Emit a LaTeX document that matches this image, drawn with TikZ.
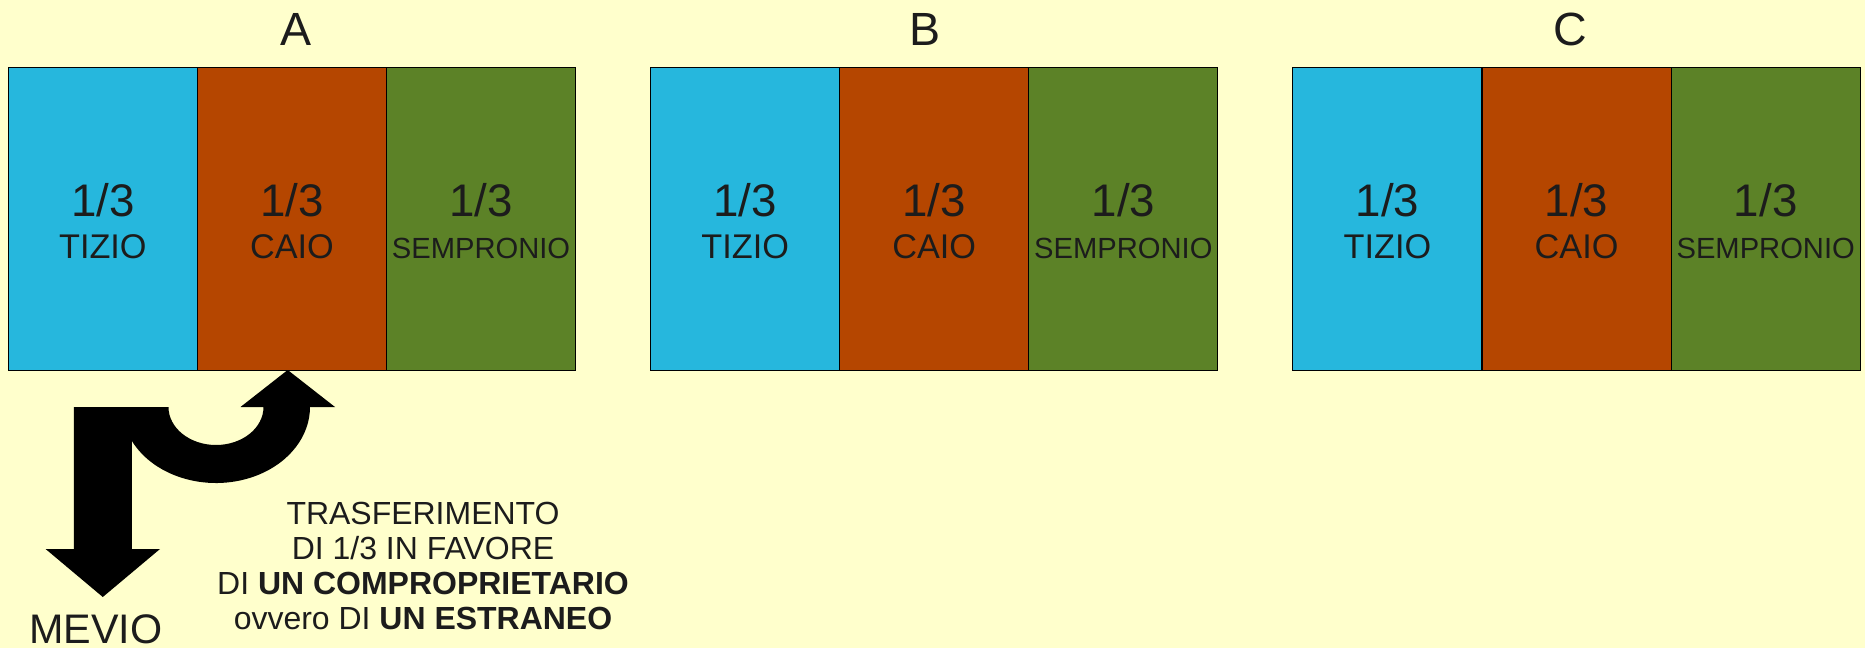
\documentclass[tikz,border=0pt]{standalone}
\usepackage{fontspec}
\setmainfont{Liberation Sans}
\usetikzlibrary{calc,positioning}
\definecolor{bgyellow}{RGB}{255,255,204}
\definecolor{tizio}{RGB}{38,183,221}
\definecolor{caio}{RGB}{181,70,0}
\definecolor{sempronio}{RGB}{92,130,39}
\definecolor{ink}{RGB}{28,28,28}
\tikzset{
  cell/.style={draw=black, line width=0.6pt, minimum width=3.782cm, minimum height=6.044cm, inner sep=0pt},
  share/.style={anchor=base, inner sep=0pt, text=ink, font=\fontsize{26}{30}\selectfont},
  owner/.style={anchor=base, inner sep=0pt, text=ink},
  group/.style={anchor=base, inner sep=0pt, text=ink, font=\fontsize{26.5}{30}\selectfont},
  note/.style={align=center, inner sep=0pt, text=ink, font=\fontsize{18.2}{20}\selectfont},
  bigarrow/.style={fill=black}
}
\begin{document}
\begin{tikzpicture}[x=0.02cm,y=-0.02cm]
  \fill[bgyellow] (0,0) rectangle (1865,648);
  \useasboundingbox (0,0) rectangle (1865,648);
  % three groups of shares
  \foreach \g/\gx in {A/8.3,B/650.6,C/1292.9}{
    \node[cell,fill=tizio] (\g1) at (\gx+94.55,219) {};
    \node[cell,fill=caio] (\g2) at (\gx+283.65,219) {};
    \node[cell,fill=sempronio] (\g3) at (\gx+472.75,219) {};
    \foreach \i/\who/\fs in {1/TIZIO/19.5,2/CAIO/19.5,3/SEMPRONIO/16.6}{
      \node[share] (\g\i s) at ($(\g\i.center)+(0,-2.3)$) {1/3};
      \node[owner,font=\fontsize{\fs}{22}\selectfont] (\g\i n) at ($(\g\i.center)+(0,39.3)$) {\who};
    }
  }
  \node[group] (labA) at (296,45.5) {A};
  \node[group] (labB) at (925,45.5) {B};
  \node[group] (labC) at (1570,45.5) {C};
  % transfer arrow
  \fill[bigarrow] (102.8,597) -- (160,549) -- (131.8,549) -- (131.8,440.8)
    arc[start angle=153.6, end angle=0, x radius=94, y radius=76]
    -- (335,407) -- (287.7,370) -- (240.5,407) -- (263.5,407)
    arc[start angle=0, end angle=180, x radius=47.5, y radius=38]
    -- (73.8,407) -- (73.8,549) -- (45.6,549) -- cycle;
  \node[owner,font=\fontsize{23.5}{26}\selectfont] (mevio) at (95.8,643) {MEVIO};
  \node[note] (transfer) at (423,566) {TRASFERIMENTO\\DI 1/3 IN FAVORE\\DI \textbf{UN COMPROPRIETARIO}\\ovvero DI \textbf{UN ESTRANEO}};
\end{tikzpicture}
\end{document}
